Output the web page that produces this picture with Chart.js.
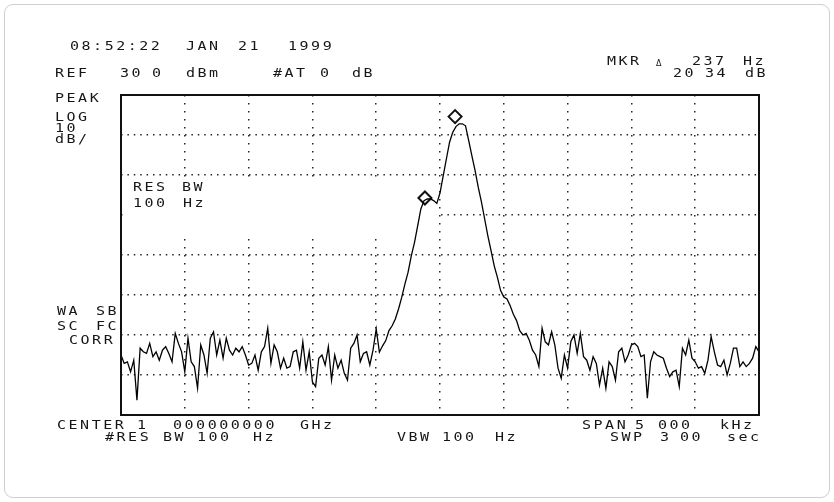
<!DOCTYPE html>
<html>
<head>
<meta charset="utf-8">
<title>Spectrum trace</title>
<script src="https://cdn.jsdelivr.net/npm/chart.js@4.4.0/dist/chart.umd.min.js"></script>
<style>
    html, body { margin: 0; padding: 0; background: #fff; }
    #wrap { position: relative; width: 834px; height: 502px; }
    #frame {
        position: absolute; left: 4px; top: 4px; width: 826px; height: 494px;
        border: 1px solid #cfcfcf; border-radius: 9px; box-sizing: border-box;
    }
    canvas { position: absolute; left: 0; top: 0; }
</style>
</head>
<body>
<div id="wrap">
    <div id="frame"></div>
    <canvas id="spectrumChart" width="834" height="502"></canvas>
</div>
<script>
// sweep: 5 kHz span around 1 GHz centre, offsets in kHz
const SPAN_START = -2.5;
const SPAN_STEP = 0.025;

// trace level (dBm), one value per sweep point
const traceLevels = [
    -35.0, -37.1, -36.7, -39.2, -36.3, -46.3, -33.3, -34.2, -34.6, -32.1,
    -35.4, -34.2, -36.3, -33.8, -32.9, -34.6, -36.7, -29.6, -32.1, -34.2,
    -39.2, -30.8, -36.7, -37.9, -43.3, -32.5, -35.0, -39.6, -30.8, -29.2,
    -35.0, -31.3, -35.8, -30.8, -33.8, -35.0, -33.3, -34.2, -32.9, -35.0,
    -37.5, -37.1, -35.0, -38.8, -34.2, -32.9, -28.3, -37.1, -32.5, -34.2,
    -38.3, -35.8, -38.3, -37.9, -34.2, -33.8, -38.3, -31.7, -38.8, -34.2,
    -41.7, -42.9, -35.8, -35.0, -37.5, -32.9, -41.3, -35.0, -38.3, -36.3,
    -39.6, -41.3, -33.3, -32.1, -30.0, -36.7, -34.6, -34.2, -37.5, -33.8,
    -28.5, -34.3, -32.7, -31.4, -28.9, -27.7, -26.0, -23.5, -20.6, -17.3,
    -14.3, -10.2, -6.9, -2.7, 1.5, 3.6, 4.0, 4.0, 3.6, 2.9,
    5.5, 9.8, 14.0, 18.2, 20.7, 22.1, 22.8, 22.8, 22.3, 18.6,
    14.8, 11.1, 6.9, 3.2, -1.0, -5.2, -8.9, -12.7, -15.6, -18.9,
    -20.5, -21.0, -22.7, -24.8, -26.4, -28.9, -30.0, -29.6, -31.3, -33.8,
    -35.0, -37.9, -28.3, -31.7, -32.5, -29.2, -32.5, -38.3, -40.8, -35.0,
    -38.3, -31.7, -30.0, -34.6, -29.6, -35.4, -36.3, -38.8, -35.4, -37.1,
    -42.5, -38.3, -43.3, -36.7, -37.9, -41.3, -34.2, -33.3, -36.7, -35.0,
    -32.5, -32.1, -32.9, -35.4, -35.0, -45.8, -36.7, -34.2, -35.0, -35.4,
    -35.8, -38.3, -40.4, -39.2, -38.8, -42.9, -33.3, -35.0, -31.3, -35.8,
    -36.7, -38.3, -37.9, -39.6, -36.3, -30.4, -34.2, -37.5, -37.9, -36.3,
    -40.0, -37.1, -33.3, -33.3, -37.9, -36.7, -37.9, -37.1, -35.8, -32.9,
    -34.2
];

// markers (diamonds): delta marker and active marker
const markerFreqs = [-0.118, 0.118];
const markerLevels = [4.25, 24.6];

// axis settings
const freqMin = -2.5, freqMax = 2.5, freqDiv = 0.5;
const refLevel = 30, bottomLevel = -50, dbPerDiv = 10;

// annotation texts around the graticule: [text, x, y]
const screenTexts = [
    ["08:52:22", 70, 47], ["JAN", 186, 47], ["21", 238, 47], ["1999", 288, 47],
    ["REF", 55, 74], ["30", 120, 74], ["0", 152, 74], ["dBm", 186, 74],
    ["#AT", 273, 74], ["0", 320, 74], ["dB", 352, 74],
    ["MKR", 607, 62], ["237", 692, 62], ["Hz", 743, 62],
    ["20", 673, 74], ["34", 705, 74], ["dB", 745, 74],
    ["PEAK", 55, 99], ["LOG", 55, 118], ["10", 55, 129], ["dB/", 55, 140],
    ["RES", 133, 188], ["BW", 182, 188], ["100", 133, 204], ["Hz", 183, 204],
    ["WA", 57, 312], ["SB", 96, 312], ["SC", 57, 327], ["FC", 96, 327], ["CORR", 69, 341],
    ["CENTER", 57, 426], ["1", 137, 426], ["000000000", 173, 426], ["GHz", 300, 426],
    ["SPAN", 582, 426], ["5", 635, 426], ["000", 658, 426], ["kHz", 720, 426],
    ["#RES", 105, 438], ["BW", 163, 438], ["100", 197, 438], ["Hz", 253, 438],
    ["VBW", 397, 438], ["100", 442, 438], ["Hz", 495, 438],
    ["SWP", 610, 438], ["3", 660, 438], ["00", 680, 438], ["sec", 727, 438]
];

document.addEventListener("DOMContentLoaded", function () {
    const ctx = document.getElementById("spectrumChart").getContext("2d");

    const tracePoints = traceLevels.map((v, i) => ({ x: SPAN_START + i * SPAN_STEP, y: v }));
    const markerPoints = markerFreqs.map((f, i) => ({ x: f, y: markerLevels[i] }));

    // the RES BW readout wipes the graticule behind it
    const blankPlugin = {
        id: "blank",
        beforeDatasetsDraw(chart) {
            const { x, y } = chart.scales;
            const c = chart.ctx;
            const left = x.getPixelForValue(freqMin) + 2;
            const right = x.getPixelForValue(-0.03);
            const top = y.getPixelForValue(9.5);
            const bottom = y.getPixelForValue(-6);
            c.save();
            c.fillStyle = "#fff";
            c.fillRect(left, top, right - left, bottom - top);
            c.restore();
        },
    };

    const framePlugin = {
        id: "frame",
        afterDatasetsDraw(chart) {
            const a = chart.chartArea;
            const c = chart.ctx;
            c.save();
            c.strokeStyle = "#111";
            c.lineWidth = 2;
            c.strokeRect(a.left, a.top, a.right - a.left, a.bottom - a.top);
            c.restore();
        },
    };

    const textPlugin = {
        id: "screenText",
        afterDraw(chart) {
            const c = chart.ctx;
            c.save();
            c.fillStyle = "#161616";
            c.font = "12.5px 'DejaVu Sans Mono'";
            c.textBaseline = "middle";
            c.letterSpacing = "2.1px";
            screenTexts.forEach(([t, px, py]) => {
                c.save();
                c.translate(px, py);
                c.scale(1.2, 1);
                c.fillText(t, 0, 0);
                c.restore();
            });
            // small delta glyph after MKR
            c.font = "8px 'DejaVu Sans'";
            c.letterSpacing = "0px";
            c.fillText("\u0394", 656, 64);
            c.restore();
        },
    };

    new Chart(ctx, {
        type: "line",
        data: {
            datasets: [
                {
                    label: "Trace A",
                    data: tracePoints,
                    borderColor: "#000",
                    borderWidth: 1.3,
                    pointRadius: 0,
                    tension: 0,
                    fill: false,
                },
                {
                    label: "Markers",
                    data: markerPoints,
                    showLine: false,
                    pointStyle: "rectRot",
                    pointRadius: 6.5,
                    pointBorderWidth: 2,
                    pointBorderColor: "#111",
                    pointBackgroundColor: "rgba(255,255,255,0)",
                },
            ],
        },
        options: {
            responsive: false,
            animation: false,
            devicePixelRatio: 1,
            layout: { padding: { left: 121, top: 95, right: 75, bottom: 87 } },
            plugins: {
                legend: { display: false },
                tooltip: { enabled: false },
            },
            scales: {
                x: {
                    type: "linear",
                    min: freqMin,
                    max: freqMax,
                    ticks: { display: false, stepSize: freqDiv },
                    grid: { color: "#262626", lineWidth: 1.5, drawTicks: false },
                    border: { display: false, dash: [1.5, 6.5] },
                },
                y: {
                    min: bottomLevel,
                    max: refLevel,
                    ticks: { display: false, stepSize: dbPerDiv },
                    grid: { color: "#262626", lineWidth: 1.5, drawTicks: false },
                    border: { display: false, dash: [1.5, 4.9] },
                },
            },
        },
        plugins: [blankPlugin, framePlugin, textPlugin],
    });
});
</script>
</body>
</html>
